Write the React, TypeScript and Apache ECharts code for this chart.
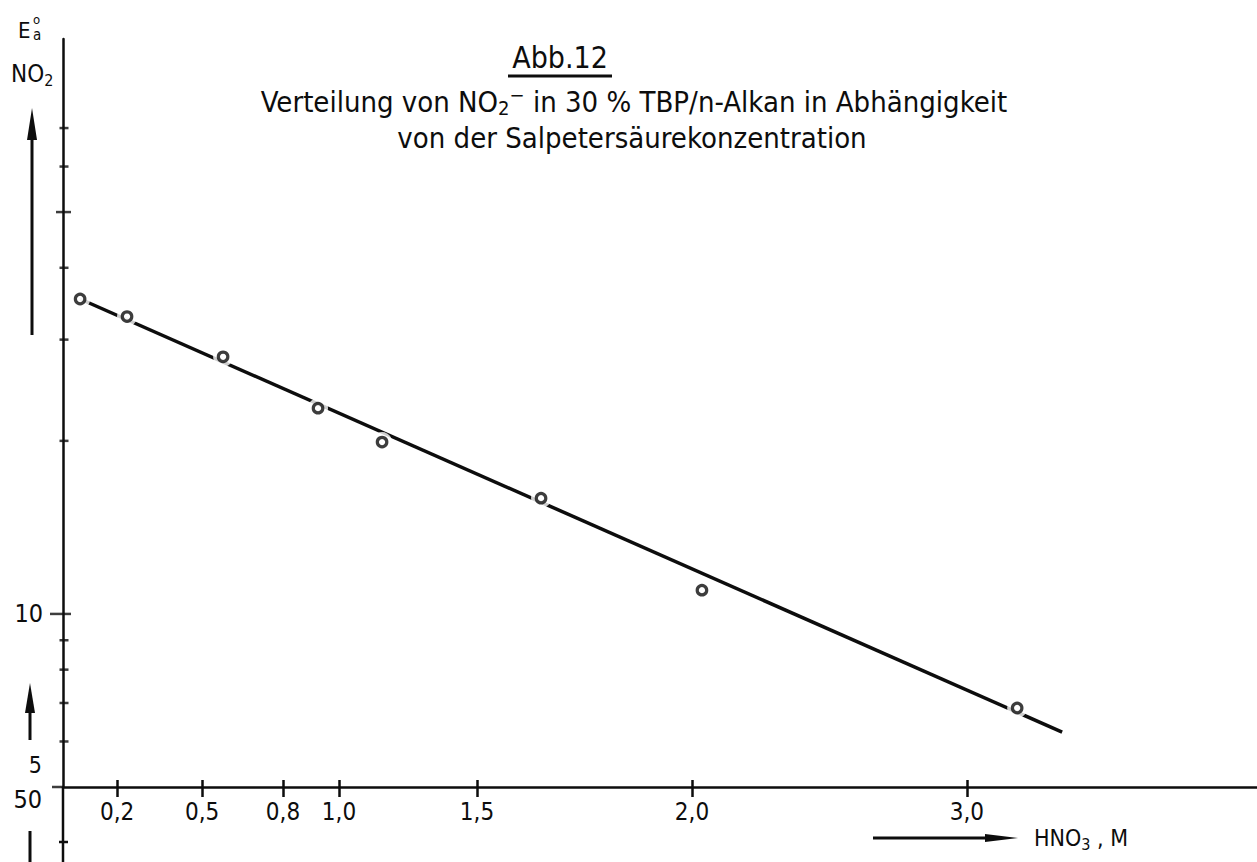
import React, { useEffect, useRef } from 'react';
import * as echarts from 'echarts';

// x axis (HNO3, M): tick labels and where they sit on the drawn axis
const xTickLabels = ['0,2', '0,5', '0,8', '1,0', '1,5', '2,0', '3,0'];
const xTickValues = [0.196, 0.504, 0.797, 1.0, 1.5, 2.279, 3.275];

const hno3 = [0.062, 0.232, 0.58, 0.924, 1.156, 1.732, 2.315, 3.457];
const eNO2 = [35.3, 32.9, 28.0, 22.8, 19.9, 15.9, 11.0, 6.86];

// fitted straight line (end points)
const fitX = [0.062, 3.62];
const fitY = [35.3, 6.23];

// y axis (log) tick values
const yMinorTicks = [6, 7, 8, 9, 20, 30, 40, 60, 70];
const yMajorTicks = [5, 10, 50];

const FONT = "'DejaVu Sans Condensed', 'DejaVu Sans', sans-serif";
const INK = '#0d0d0d';

function txt(x: number, y: number, text: string, size: number, extra: any = {}, el: any = {}) {
  return {
    type: 'text',
    x,
    y,
    ...el,
    style: {
      text,
      fill: INK,
      fontSize: size,
      fontFamily: FONT,
      verticalAlign: 'middle',
      ...extra,
    },
  };
}

export default function App() {
  const ref = useRef<HTMLDivElement>(null);

  useEffect(() => {
    if (!ref.current) return;
    const chart = echarts.init(ref.current, undefined, { renderer: 'svg' });

    const points = hno3.map((x, i) => [x, eNO2[i]]);
    const fit = fitX.map((x, i) => [x, fitY[i]]);

    const majorTickStyle: Record<number, { size: number[]; offset: number[] }> = {
      5: { size: [12, 2.5], offset: [-5, 0] },
      10: { size: [21, 2.5], offset: [-2.5, 0] },
      50: { size: [15, 2.5], offset: [0.5, 0] },
    };

    const option: any = {
      animation: false,
      backgroundColor: '#fff',
      grid: { left: 63, top: 39, right: 0, bottom: 75, containLabel: false },
      xAxis: [
        {
          type: 'value',
          min: 0,
          max: 4.326,
          position: 'bottom',
          axisLine: { show: true, onZero: false, lineStyle: { color: INK, width: 2.5 } },
          axisTick: {
            show: true,
            customValues: xTickValues,
            length: 10,
            inside: false,
            lineStyle: { color: INK, width: 2.5 },
          },
          axisLabel: {
            show: true,
            customValues: xTickValues,
            margin: 13,
            color: INK,
            fontSize: 24,
            fontFamily: FONT,
            formatter: (v: number) => {
              let best = 0;
              xTickValues.forEach((t, i) => {
                if (Math.abs(t - v) < Math.abs(xTickValues[best] - v)) best = i;
              });
              return xTickLabels[best];
            },
          },
          splitLine: { show: false },
        },
        {
          type: 'value',
          min: 0,
          max: 4.326,
          position: 'bottom',
          axisLine: { show: false },
          axisTick: {
            show: true,
            customValues: xTickValues,
            length: 7,
            inside: true,
            lineStyle: { color: INK, width: 2.5 },
          },
          axisLabel: { show: false },
          splitLine: { show: false },
        },
      ],
      yAxis: [
        {
          type: 'log',
          logBase: 10,
          min: 5,
          max: 100,
          axisLine: { show: true, onZero: false, lineStyle: { color: INK, width: 2.5 } },
          axisTick: { show: false },
          axisLabel: {
            show: true,
            margin: 20,
            color: INK,
            fontSize: 25,
            fontFamily: FONT,
            formatter: (v: number) => (Math.abs(v - 10) < 0.01 ? '10' : ''),
          },
          splitLine: { show: false },
          minorSplitLine: { show: false },
        },
      ],
      series: [
        {
          name: 'ticks-minor',
          type: 'scatter',
          clip: false,
          silent: true,
          z: 5,
          symbol: 'rect',
          symbolSize: [9, 2.5],
          symbolOffset: [1, 0],
          itemStyle: { color: INK },
          data: yMinorTicks.map((v) => [0, v]),
        },
        {
          name: 'ticks-major',
          type: 'scatter',
          clip: false,
          silent: true,
          z: 5,
          symbol: 'rect',
          itemStyle: { color: INK },
          data: yMajorTicks.map((v) => ({
            value: [0, v],
            symbolSize: majorTickStyle[v].size,
            symbolOffset: majorTickStyle[v].offset,
          })),
        },
        {
          name: 'fit',
          type: 'line',
          z: 2,
          showSymbol: false,
          symbol: 'none',
          lineStyle: { color: INK, width: 3.5 },
          data: fit,
        },
        {
          name: 'halo',
          type: 'scatter',
          z: 3,
          silent: true,
          symbol: 'circle',
          symbolSize: 20,
          itemStyle: { color: '#fff' },
          data: points,
        },
        {
          name: 'E_a NO2',
          type: 'scatter',
          z: 4,
          symbol: 'circle',
          symbolSize: 9.5,
          itemStyle: { color: '#fff', borderColor: INK, borderWidth: 3.2 },
          data: points,
        },
      ],
      graphic: [
        // title
        txt(560, 57, 'Abb.12', 30, { align: 'center' }),
        {
          type: 'line',
          shape: { x1: 508, y1: 76, x2: 612, y2: 76 },
          style: { stroke: INK, lineWidth: 3 },
        },
        txt(
          634,
          102,
          'Verteilung von NO{sub|2}{sup|−} in 30 % TBP/n-Alkan in Abhängigkeit',
          29,
          {
            align: 'center',
            rich: {
              sub: { fontSize: 20, fontFamily: FONT, fill: INK, padding: [12, 0, 0, 0] },
              sup: { fontSize: 20, fontFamily: FONT, fill: INK, padding: [0, 0, 14, 0] },
            },
          }
        ),
        txt(632, 138, 'von der Salpetersäurekonzentration', 29, { align: 'center' }),
        // y axis name
        txt(18, 30, 'E', 22),
        txt(33, 19, 'o', 13),
        txt(33, 35, 'a', 15),
        txt(11, 74, 'NO{sub|2}', 24, {
          rich: { sub: { fontSize: 16, fontFamily: FONT, fill: INK, padding: [12, 0, 0, 0] } },
        }),
        // up arrows on the left
        { type: 'line', shape: { x1: 32, y1: 335, x2: 32, y2: 135 }, style: { stroke: INK, lineWidth: 3 } },
        { type: 'polygon', shape: { points: [[32, 108], [37, 140], [27, 140]] }, style: { fill: INK } },
        { type: 'line', shape: { x1: 30, y1: 740, x2: 30, y2: 708 }, style: { stroke: INK, lineWidth: 3 } },
        { type: 'polygon', shape: { points: [[30, 683], [35, 713], [25, 713]] }, style: { fill: INK } },
        { type: 'line', shape: { x1: 30, y1: 831, x2: 30, y2: 862 }, style: { stroke: INK, lineWidth: 3 } },
        // lower labels "5" and "50"
        txt(42, 765, '5', 23, { align: 'right' }),
        txt(42, 799, '50', 25, { align: 'right' }),
        // axis continuing downward
        { type: 'line', shape: { x1: 63, y1: 787, x2: 63, y2: 862 }, style: { stroke: INK, lineWidth: 2.5 } },
        { type: 'line', shape: { x1: 59, y1: 842, x2: 68, y2: 842 }, style: { stroke: INK, lineWidth: 2.5 } },
        // x axis name with arrow
        { type: 'line', shape: { x1: 873, y1: 838, x2: 990, y2: 838 }, style: { stroke: INK, lineWidth: 3 } },
        { type: 'polygon', shape: { points: [[1018, 838], [985, 834], [985, 842]] }, style: { fill: INK } },
        txt(1034, 838, 'HNO{sub|3} , M', 23, {
          rich: { sub: { fontSize: 16, fontFamily: FONT, fill: INK, padding: [12, 0, 0, 0] } },
        }),
      ],
    };

    chart.setOption(option);
    return () => chart.dispose();
  }, []);

  return (
    <div
      ref={ref}
      style={{ position: 'absolute', left: 0, top: 0, width: 1257, height: 862, background: '#fff' }}
    />
  );
}
